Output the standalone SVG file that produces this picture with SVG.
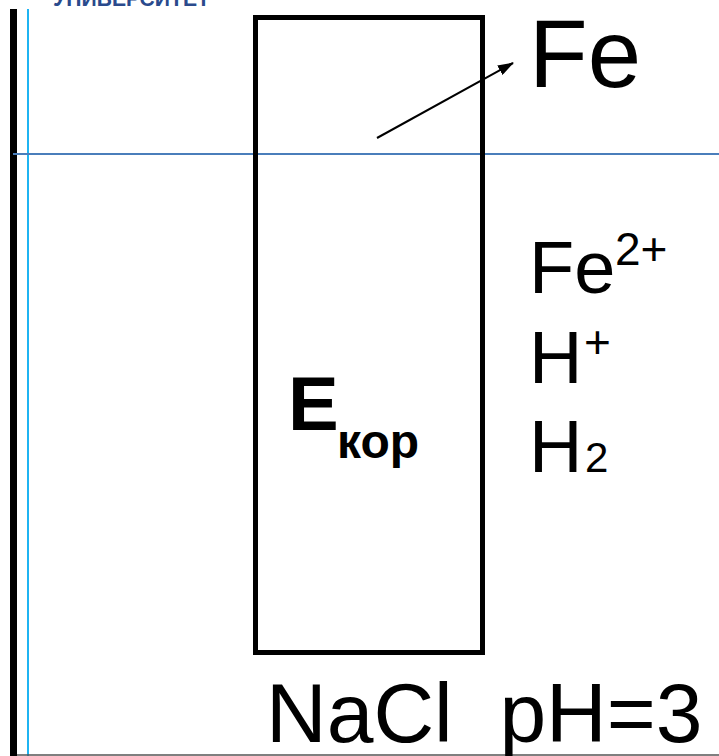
<svg xmlns="http://www.w3.org/2000/svg" width="719" height="756" viewBox="0 0 719 756">
<style>
.t{font-family:"Liberation Sans",Arial,sans-serif;fill:#000}
.b{font-weight:bold}
</style>
<defs>
<marker id="ah" viewBox="0 0 16 11" refX="15" refY="5.5" markerWidth="16" markerHeight="11" markerUnits="userSpaceOnUse" orient="auto">
<path d="M0,0 L16,5.5 L0,11 z" fill="#000"/>
</marker>
</defs>
<rect width="719" height="756" fill="#fff"/>
<text x="53" y="6" font-family="'Liberation Sans',Arial,sans-serif" font-size="22" font-weight="bold" fill="#2a4a8c" textLength="157" lengthAdjust="spacingAndGlyphs">УНИВЕРСИТЕТ</text>
<g id="frame">
<rect x="10" y="9" width="7" height="747" fill="#000"/>
<line x1="28" y1="9" x2="28" y2="756" stroke="#1fb4f2" stroke-width="2"/>
<line x1="13" y1="154" x2="719" y2="154" stroke="#4a7ebb" stroke-width="2"/>
<line x1="17" y1="755" x2="719" y2="755" stroke="#555" stroke-width="1.5"/>
</g>
<g id="electrode">
<rect x="255.5" y="17.5" width="227" height="635" fill="none" stroke="#000" stroke-width="5"/>
<text class="t b" x="288" y="430" font-size="76">E</text>
<text class="t b" x="337" y="458" font-size="48">кор</text>
</g>
<g id="connectors">
<line x1="377" y1="138" x2="513" y2="63" stroke="#000" stroke-width="2" marker-end="url(#ah)"/>
</g>
<g id="fe-label">
<text class="t" x="529" y="87" font-size="96">Fe</text>
</g>
<g id="species">
<text class="t" x="529" y="293" font-size="74">Fe</text>
<text class="t" x="615" y="265" font-size="46">2+</text>
<text class="t" x="529" y="383" font-size="74">H</text>
<text class="t" x="584" y="358" font-size="46">+</text>
<text class="t" x="529" y="472" font-size="74">H</text>
<text class="t" x="585" y="472" font-size="42">2</text>
</g>
<g id="solution">
<text class="t" x="266" y="742" font-size="84" xml:space="preserve">NaCl  pH=3</text>
</g>
</svg>
